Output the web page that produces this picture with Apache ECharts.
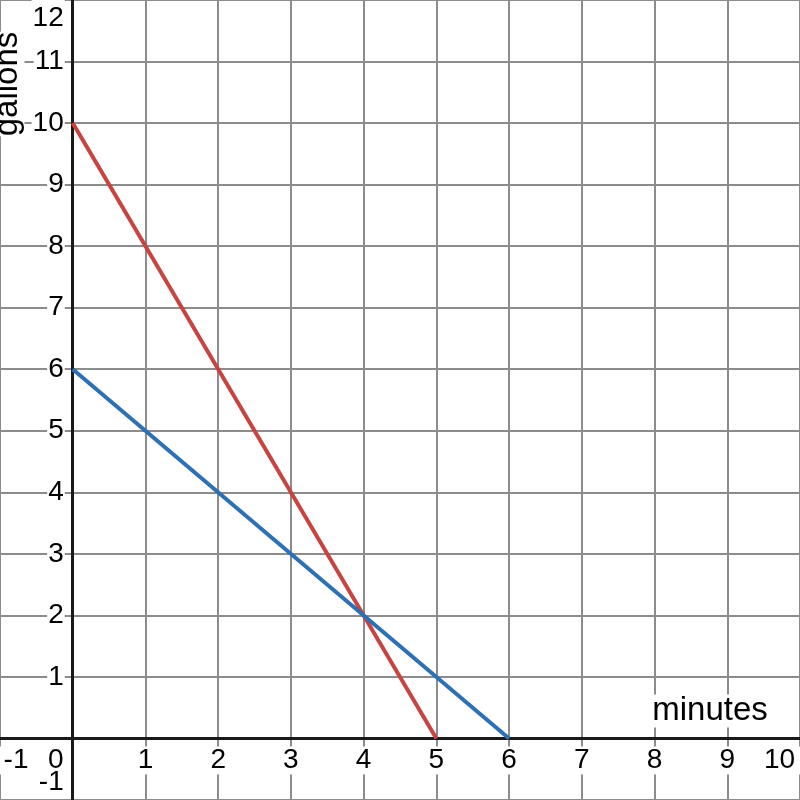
<!DOCTYPE html>
<html>
<head>
<meta charset="utf-8">
<script src="https://cdn.jsdelivr.net/npm/echarts@6/dist/echarts.min.js"></script>
<style>
html,body{margin:0;padding:0;background:#fff;}
#chart{width:800px;height:800px;}
</style>
</head>
<body>
<div id="chart"></div>
<script>
// Data
var xName = 'minutes';
var yName = 'gallons';
var redX = [0, 5];
var redY = [10, 0];
var blueX = [0, 6];
var blueY = [6, 0];
var xRange = [-1, 10];
var yRange = [-1, 12];

function pairs(xs, ys) { return xs.map(function (x, i) { return [x, ys[i]]; }); }

var W = 800, H = 800;
var FONT = 'Liberation Sans, Arial, sans-serif';
var chart = echarts.init(document.getElementById('chart'), null, {renderer: 'canvas'});

// place each axis at the zero of the other axis (axis offset from grid edge)
var xAxisOffset = -H * (0 - yRange[0]) / (yRange[1] - yRange[0]);
var yAxisOffset = -W * (0 - xRange[0]) / (xRange[1] - xRange[0]);

var labelRich = {
  n: {backgroundColor: '#fff', fontSize: 28, fontFamily: FONT, color: '#000', padding: [0, 1]},
  l: {backgroundColor: '#fff', fontSize: 28, fontFamily: FONT, color: '#000', padding: [0, 0, 0, 32]},
  r: {backgroundColor: '#fff', fontSize: 28, fontFamily: FONT, color: '#000', padding: [0, 41, 0, 0]},
  z: {fontSize: 28, fontFamily: FONT, color: '#000', padding: [0, 34, 0, 0]},
  t: {backgroundColor: '#fff', fontSize: 28, fontFamily: FONT, color: '#000', padding: [36, 1, 0, 1]},
  b: {fontSize: 28, fontFamily: FONT, color: '#000', padding: [0, 1, 36, 1]}
};

chart.setOption({
  animation: false,
  grid: {left: 0, right: 0, top: 0, bottom: 0, containLabel: false, outerBoundsMode: 'none'},
  xAxis: {
    type: 'value', min: xRange[0], max: xRange[1], interval: 1,
    position: 'bottom', offset: xAxisOffset,
    axisLine: {onZero: false, lineStyle: {color: '#1a1a1a', width: 3}},
    axisTick: {show: false},
    splitLine: {show: true, lineStyle: {color: '#8c8c8c', width: 2}},
    axisLabel: {
      show: true, margin: 8, showMinLabel: true, showMaxLabel: true,
      rich: labelRich,
      formatter: function (v) {
        if (v === xRange[0]) return '{l|' + v + '}';
        if (v === xRange[1]) return '{r|' + v + '}';
        if (v === 0) return '{z|0}';
        return '{n|' + v + '}';
      }
    }
  },
  yAxis: {
    type: 'value', min: yRange[0], max: yRange[1], interval: 1,
    position: 'left', offset: yAxisOffset,
    axisLine: {onZero: false, lineStyle: {color: '#1a1a1a', width: 3}},
    axisTick: {show: false},
    splitLine: {show: true, lineStyle: {color: '#8c8c8c', width: 2}},
    axisLabel: {
      show: true, margin: 8, showMinLabel: true, showMaxLabel: true,
      rich: labelRich,
      formatter: function (v) {
        if (v === 0) return '';
        if (v === yRange[0]) return '{b|' + v + '}';
        if (v === yRange[1]) return '{t|' + v + '}';
        return '{n|' + v + '}';
      }
    }
  },
  graphic: [
    {type: 'text', x: 710, y: 711, z: 50,
     style: {text: xName, fontSize: 33, fontFamily: FONT, fill: '#000', align: 'center', verticalAlign: 'middle', backgroundColor: '#fff'}},
    {type: 'text', x: 8, y: 84, rotation: Math.PI / 2, z: 50,
     style: {text: yName, fontSize: 33, fontFamily: FONT, fill: '#000', align: 'center', verticalAlign: 'middle', backgroundColor: '#fff'}}
  ],
  series: [
    {type: 'line', data: pairs(redX, redY), showSymbol: false, symbol: 'none',
     lineStyle: {color: '#c74440', width: 4}, z: 3},
    {type: 'line', data: pairs(blueX, blueY), showSymbol: false, symbol: 'none',
     lineStyle: {color: '#2d70b3', width: 4}, z: 4}
  ]
});
</script>
</body>
</html>
